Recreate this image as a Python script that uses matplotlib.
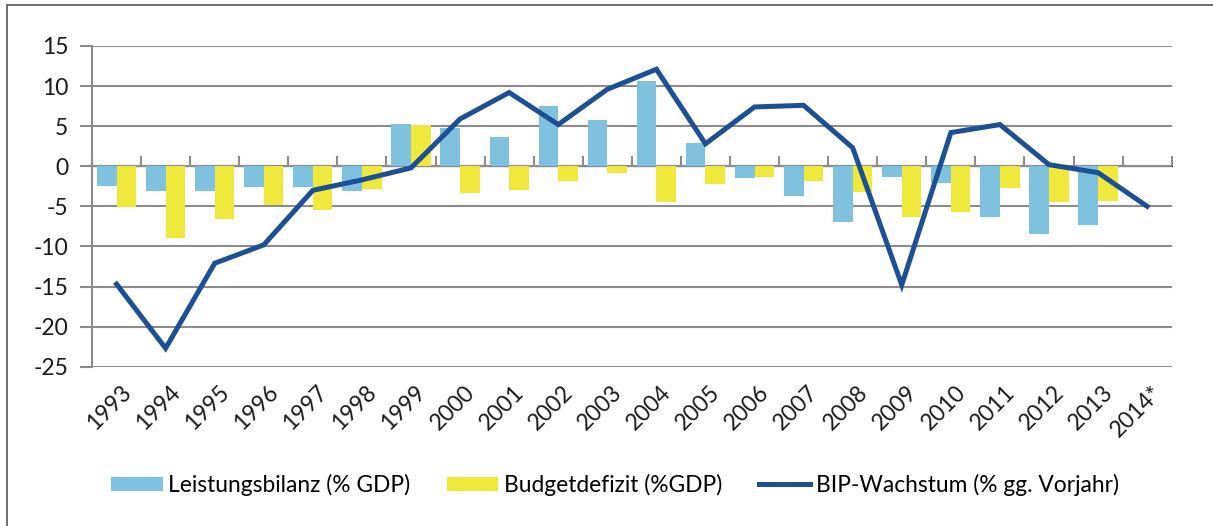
import matplotlib
matplotlib.use("Agg")
import matplotlib.pyplot as plt
import matplotlib.transforms as mtrans
import numpy as np
from matplotlib.patches import Patch, Rectangle
from matplotlib.lines import Line2D

years = ["1993", "1994", "1995", "1996", "1997", "1998", "1999", "2000", "2001", "2002",
         "2003", "2004", "2005", "2006", "2007", "2008", "2009", "2010", "2011", "2012",
         "2013", "2014*"]
leistungsbilanz = [-2.5, -3.1, -3.1, -2.6, -2.6, -3.1, 5.3, 4.8, 3.7, 7.5,
                   5.8, 10.6, 2.9, -1.5, -3.7, -7.0, -1.4, -2.1, -6.3, -8.4,
                   -7.3, np.nan]
budgetdefizit = [-5.1, -8.9, -6.6, -4.8, -5.5, -2.8, 5.1, -3.3, -3.0, -1.8,
                 -0.8, -4.4, -2.2, -1.3, -1.9, -3.2, -6.3, -5.7, -2.7, -4.4,
                 -4.3, np.nan]
bip_wachstum = [-14.7, -22.7, -12.1, -9.8, -3.0, -1.7, -0.2, 5.9, 9.2, 5.2,
                9.6, 12.1, 2.8, 7.4, 7.6, 2.3, -14.8, 4.2, 5.2, 0.2,
                -0.8, -5.0]
labels = ["Leistungsbilanz (% GDP)", "Budgetdefizit (%GDP)", "BIP-Wachstum (% gg. Vorjahr)"]

c_blue = "#80c1df"
c_yellow = "#eee93a"
c_line = "#1d4f95"
c_grid = "#8c8c8c"

plt.rcParams['font.family'] = ['Lato', 'DejaVu Sans']
plt.rcParams['axes.unicode_minus'] = False

W, H = 1213, 526
fig = plt.figure(figsize=(W / 100, H / 100), dpi=100)
ax = fig.add_axes([92 / W, 1 - 366.7 / H, (1171.7 - 92) / W, (366.7 - 46) / H])

x = np.arange(len(years))
bw = 0.4
ax.bar(x - bw / 2, leistungsbilanz, width=bw, color=c_blue, zorder=2)
ax.bar(x + bw / 2, budgetdefizit, width=bw, color=c_yellow, zorder=2)
ax.plot(x, bip_wachstum, color=c_line, lw=3.6, zorder=3, solid_joinstyle='miter')

ax.set_xlim(-0.5, len(years) - 0.5)
ax.set_ylim(-25, 15)
ax.set_yticks(np.arange(-25, 16, 5))
ax.yaxis.grid(True, color=c_grid, lw=1.5, zorder=1)
ax.set_axisbelow(True)
for s in ['top', 'right', 'bottom']:
    ax.spines[s].set_visible(False)
ax.spines['left'].set_color(c_grid)
ax.spines['left'].set_linewidth(1.5)
ax.tick_params(axis='y', length=9, width=1.5, color=c_grid, labelsize=16.5, pad=8,
               labelcolor='#1a1a1a')

# category labels at bottom
ax.set_xticks(x)
ax.set_xticklabels(years, rotation=45, ha='right', rotation_mode='anchor',
                   fontsize=16.5, color='#1a1a1a')
ax.tick_params(axis='x', length=0, pad=2)
for lab in ax.get_xticklabels():
    lab.set_transform(lab.get_transform() + mtrans.ScaledTranslation(4 / 100, -12 / 100, fig.dpi_scale_trans))

# zero axis with boundary ticks
sec = ax.secondary_xaxis(25 / 40)
sec.set_xticks(np.arange(-0.5, len(years), 1.0))
sec.set_xticklabels([])
sec.spines['bottom'].set_color(c_grid)
sec.spines['bottom'].set_linewidth(1.5)
sec.tick_params(axis='x', length=7, width=1.5, color=c_grid, direction='out')
ax.axhline(0, color=c_grid, lw=1.5, zorder=1)

handles = [Patch(facecolor=c_blue), Patch(facecolor=c_yellow),
           Line2D([0], [0], color=c_line, lw=3.6)]
fig.legend(handles, labels, loc='center', bbox_to_anchor=(0.507, 1 - 485 / H), ncol=3,
           frameon=False, fontsize=16.4, handlelength=2.25, handleheight=0.58,
           columnspacing=1.6, handletextpad=0.25)

fig.add_artist(Rectangle((7 / W, -0.2), 1.2, 0.2 + (1 - 5 / H), transform=fig.transFigure,
                         fill=False, edgecolor='#555555', lw=1.2))

fig.savefig("out.png", dpi=100)
